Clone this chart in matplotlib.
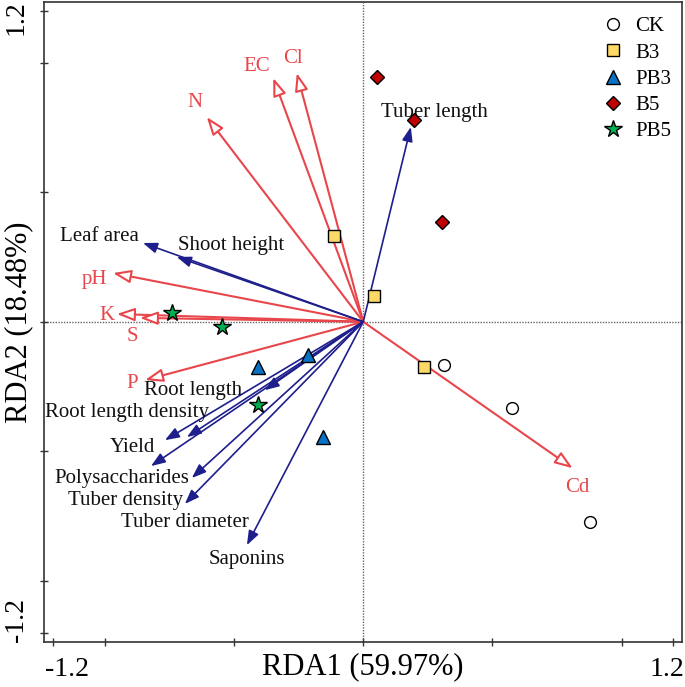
import matplotlib
matplotlib.use('Agg')
import matplotlib.pyplot as plt
from matplotlib.transforms import ScaledTranslation

plt.rcParams['font.family'] = ['Liberation Serif', 'DejaVu Serif']

RED = '#E8464B'
BLUE = '#1E1E8C'

# environmental factors (red, open heads)
env_names = ['N', 'EC', 'Cl', 'pH', 'K', 'S', 'P', 'Cd']
env_x = [-0.605, -0.348, -0.257, -0.968, -0.953, -0.864, -0.844, 0.810]
env_y = [0.790, 0.941, 0.960, 0.188, 0.030, 0.015, -0.225, -0.565]
env_lab = [(-0.651, 0.845), (-0.412, 0.984), (-0.272, 1.018), (-1.038, 0.165),
           (-0.991, 0.026), (-0.894, -0.055), (-0.894, -0.237), (0.829, -0.640)]

# plant traits (blue, filled heads)
trait_names = ['Tuber length', 'Leaf area', 'Shoot height', 'Root length',
               'Root length density', 'Yield', 'Polysaccharides', 'Tuber density',
               'Tuber diameter', 'Saponins']
trait_x = [0.184, -0.852, -0.721, -0.381, -0.767, -0.821, -0.663, -0.690, -0.682, -0.450]
trait_y = [0.752, 0.304, 0.250, -0.264, -0.457, -0.557, -0.603, -0.703, -0.445, -0.862]
trait_lab = [(0.276, 0.806), (-1.022, 0.331), (-0.512, 0.293), (-0.659, -0.264),
             (-0.914, -0.352), (-0.891, -0.484), (-0.933, -0.603), (-0.918, -0.688),
             (-0.690, -0.773), (-0.450, -0.917)]

# samples
groups = ['CK', 'B3', 'PB3', 'B5', 'PB5']
grp_x = [[0.311, 0.574, 0.879], [-0.114, 0.041, 0.234], [-0.408, -0.214, -0.157],
         [0.052, 0.195, 0.303], [-0.740, -0.547, -0.408]]
grp_y = [[-0.167, -0.333, -0.773], [0.331, 0.099, -0.174], [-0.175, -0.128, -0.445],
         [0.945, 0.779, 0.385], [0.034, -0.020, -0.322]]
grp_marker = ['o', 's', '^', 'D', '*']
grp_face = ['white', '#FFD966', '#0A72C4', '#C00000', '#00B050']
grp_size = [8.5, 8.5, 9.5, 7, 13]

fig = plt.figure(figsize=(6.85, 6.87), dpi=100)
ax = fig.add_axes([0.0642, 0.0655, 0.9314, 0.9315])
ax.set_xlim(-1.235, 1.233)
ax.set_ylim(-1.236, 1.234)

ax.axhline(0, color='#666666', ls=(0, (1, 1)), lw=1, zorder=1)
ax.axvline(0, color='#666666', ls=(0, (1, 1)), lw=1, zorder=1)

for x, y in zip(env_x, env_y):
    ax.annotate('', xy=(x, y), xytext=(0, 0),
                arrowprops=dict(arrowstyle='-|>,head_length=0.6,head_width=0.22',
                                mutation_scale=18, fc='white', ec=RED, lw=1.5,
                                shrinkA=0, shrinkB=0), zorder=2)
for name, (lx, ly) in zip(env_names, env_lab):
    ax.text(lx, ly, name, color=RED, fontsize=15, ha='center', va='center', zorder=3)

for x, y in zip(trait_x, trait_y):
    ax.annotate('', xy=(x, y), xytext=(0, 0),
                arrowprops=dict(arrowstyle='-|>,head_length=0.86,head_width=0.32',
                                mutation_scale=10, fc=BLUE, ec=BLUE, lw=1.2,
                                shrinkA=0, shrinkB=0), zorder=2)
for name, (lx, ly) in zip(trait_names, trait_lab):
    ax.text(lx, ly, name, color='#111111', fontsize=15, ha='center', va='center', zorder=3)

handles = []
for g, xs, ys, m, fc, ms in zip(groups, grp_x, grp_y, grp_marker, grp_face, grp_size):
    h, = ax.plot(xs, ys, ls='none', marker=m, mfc=fc, mec='black', mew=1,
                 ms=ms, label=g, zorder=5)
    handles.append(h)

ax.legend(handles=handles, loc='upper left', bbox_to_anchor=(0.863, 0.99),
          frameon=False, fontsize=15, handlelength=1.0, handletextpad=0.55,
          labelspacing=0.32, borderaxespad=0)

for s in ax.spines.values():
    s.set_linewidth(1.2)
    s.set_color('#333333')

ax.set_xticks([-1.2, -1.0, -0.5, 0, 0.5, 1.0, 1.2])
ax.set_xticklabels(['-1.2', '', '', '', '', '', '1.2'])
ax.set_yticks([-1.2, -1.0, -0.5, 0, 0.5, 1.0, 1.2])
ax.set_yticklabels(['-1.2', '', '', '', '', '', '1.2'], rotation=90, va='center')
ax.tick_params(direction='inout', length=6, width=1, colors='#333333',
               labelsize=20, labelcolor='black', pad=8)
ax.tick_params(top=False, right=False)

xl = ax.get_xticklabels()
xl[0].set_transform(xl[0].get_transform() + ScaledTranslation(10 / 72, 0, fig.dpi_scale_trans))
xl[-1].set_transform(xl[-1].get_transform() + ScaledTranslation(-5 / 72, 0, fig.dpi_scale_trans))
yl = ax.get_yticklabels()
yl[0].set_transform(yl[0].get_transform() + ScaledTranslation(0, 9 / 72, fig.dpi_scale_trans))
yl[-1].set_transform(yl[-1].get_transform() + ScaledTranslation(0, -5 / 72, fig.dpi_scale_trans))

ax.set_xlabel('RDA1 (59.97%)', fontsize=22, labelpad=-22)
ax.set_ylabel('RDA2 (18.48%)', fontsize=22, labelpad=-21)

fig.savefig('out.png', dpi=100)
